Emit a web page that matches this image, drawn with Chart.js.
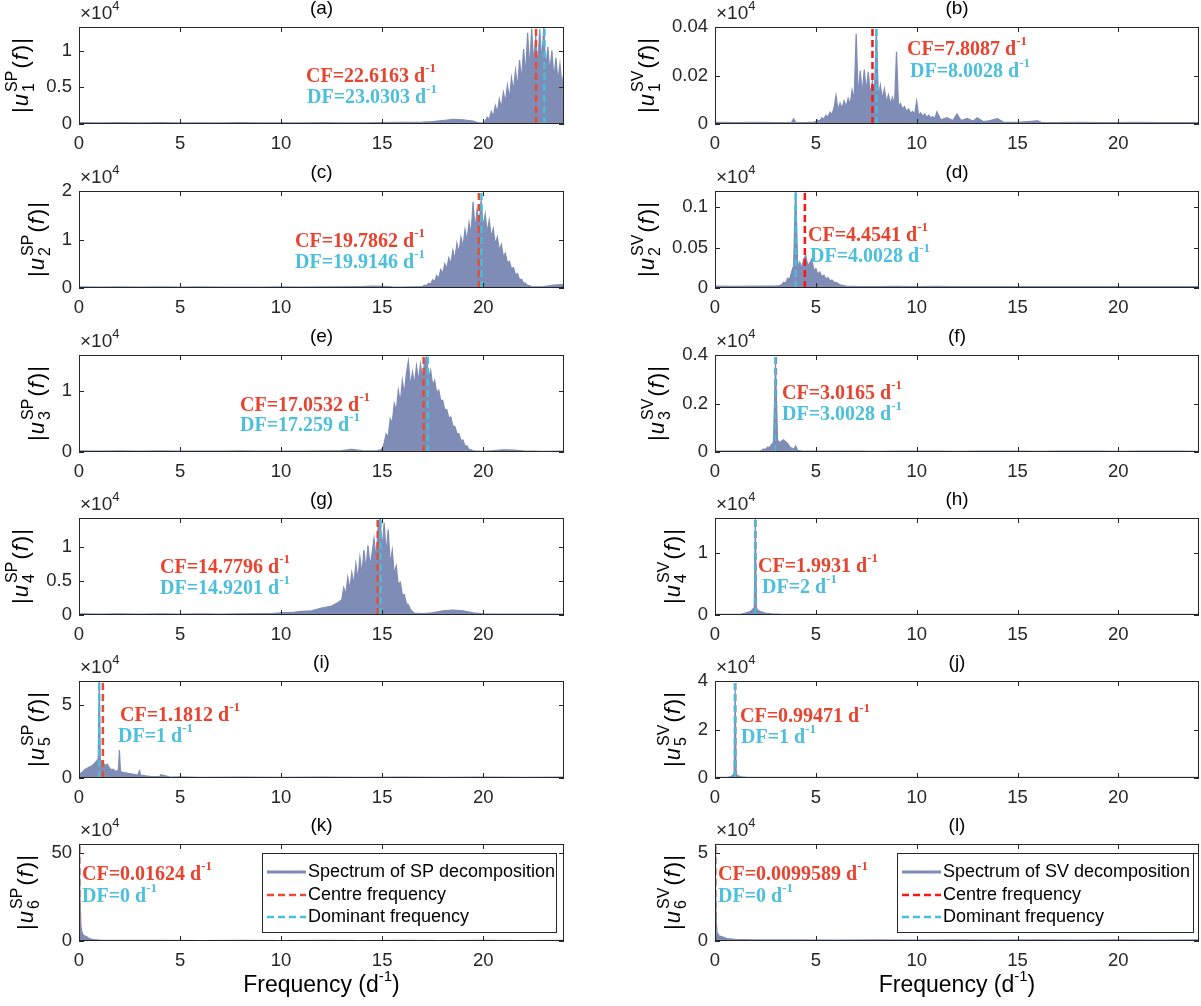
<!DOCTYPE html>
<html><head><meta charset="utf-8">
<script src="https://cdn.jsdelivr.net/npm/chart.js@4.4.1/dist/chart.umd.min.js"></script>
<style>
html,body{margin:0;padding:0;background:#fff;}
#wrap{position:relative;width:1201px;height:1006px;overflow:hidden;background:#fff;}
#wrap canvas{position:absolute;left:0;top:0;}
</style></head><body><div id="wrap"></div>
<script>
// ---------------- DATA (amplitudes in units of 10^4, frequency in d^-1) ----------------
const freqA = [0,1,2,3,4,5,6,7,8,9,10,11,12,13,14,15,16,17,17.5,18,18.5,19,19.5,19.8,
  20.0,20.1,20.2,20.3,20.4,20.5,20.6,20.7,20.8,20.9,21.0,21.1,21.2,21.3,21.4,21.5,21.6,21.7,21.8,21.9,
  22.0,22.1,22.2,22.3,22.4,22.5,22.6,22.7,22.8,22.9,23.0,23.1,23.2,23.3,23.4,23.5,23.6,23.7,23.8,23.9,24.0];
const ampA = [0.018,0.015,0.019,0.016,0.018,0.015,0.017,0.015,0.018,0.016,0.017,0.015,0.018,0.016,0.017,0.019,0.021,0.025,0.033,0.048,0.062,0.058,0.038,0.014,
  0.012,0.04,0.09,0.06,0.17,0.1,0.25,0.16,0.34,0.22,0.43,0.3,0.53,0.34,0.63,0.45,0.73,0.5,0.87,0.6,
  1.02,0.68,1.24,0.75,1.3,0.82,1.2,0.78,1.29,0.85,1.33,0.74,1.05,0.7,1.0,0.62,0.9,0.58,0.82,0.52,0.72];

const freqB = [0,1,2,3,3.8,3.9,4.0,4.5,4.9,
  5.0,5.1,5.2,5.3,5.4,5.5,5.6,5.7,5.8,5.9,6.0,6.1,6.2,6.3,6.4,6.5,6.6,6.7,6.8,6.9,
  7.0,7.1,7.2,7.3,7.4,7.5,7.6,7.7,7.8,7.9,8.0,8.1,8.2,8.3,8.4,8.5,8.6,8.7,8.8,8.9,
  9.0,9.1,9.2,9.3,9.4,9.5,9.6,9.7,9.8,9.9,10.0,10.1,10.2,10.3,10.4,10.5,10.6,10.7,10.8,10.9,11.0,
  11.2,11.5,11.8,12.0,12.2,12.5,12.8,13.0,13.3,13.6,14.0,14.3,15,16,16.2,17,18,19,20,21,22,23,24];
const ampB = [0.0007,0.0006,0.0007,0.0006,0.0007,0.0022,0.0007,0.0006,0.0008,
  0.001,0.0016,0.0013,0.0026,0.002,0.0036,0.0028,0.0049,0.004,0.0066,0.0118,0.0058,0.0086,0.0065,0.0096,0.0072,0.0106,0.0082,0.014,0.0098,
  0.0372,0.0115,0.022,0.0125,0.0225,0.0135,0.0215,0.012,0.0175,0.0112,0.0392,0.011,0.016,0.0105,0.0145,0.0092,0.012,0.0085,0.011,0.0075,
  0.0298,0.007,0.0085,0.0062,0.0072,0.0052,0.0062,0.0045,0.0052,0.004,0.0095,0.0036,0.0046,0.0032,0.0041,0.0028,0.0036,0.0025,0.0031,0.0022,0.005,
  0.0017,0.0026,0.0014,0.0042,0.0014,0.0023,0.0012,0.0026,0.001,0.0013,0.0022,0.0008,0.0007,0.0013,0.0006,0.0006,0.0007,0.0006,0.0006,0.0007,0.0006,0.0006,0.0006];

const freqC = [0,1,2,3,4,5,6,7,8,9,10,11,12,13,14,14.5,15,15.5,16,16.5,
  17.0,17.1,17.2,17.3,17.4,17.5,17.6,17.7,17.8,17.9,18.0,18.1,18.2,18.3,18.4,18.5,18.6,18.7,18.8,18.9,
  19.0,19.1,19.2,19.3,19.4,19.5,19.6,19.7,19.8,19.9,20.0,20.1,20.2,20.3,20.4,20.5,20.6,20.7,20.8,20.9,
  21.0,21.1,21.2,21.3,21.4,21.5,21.6,21.7,21.8,21.9,22.0,22.1,22.2,22.3,22.4,22.5,23,23.5,24];
const ampC = [0.022,0.02,0.022,0.019,0.022,0.02,0.022,0.019,0.021,0.02,0.022,0.02,0.022,0.024,0.03,0.037,0.032,0.022,0.017,0.022,
  0.03,0.06,0.05,0.1,0.08,0.17,0.13,0.26,0.2,0.38,0.3,0.5,0.4,0.62,0.5,0.78,0.6,0.92,0.72,1.05,
  0.85,1.2,0.98,1.35,1.1,1.78,1.2,1.62,1.3,1.82,1.25,1.52,1.15,1.4,1.05,1.22,0.9,1.05,0.78,0.9,
  0.65,0.72,0.52,0.55,0.4,0.42,0.27,0.3,0.17,0.18,0.1,0.1,0.05,0.05,0.025,0.022,0.03,0.06,0.07];

const freqD = [0,1,2,3,3.2,3.3,3.4,3.5,3.6,3.7,3.8,3.9,4.0,4.1,4.2,4.3,4.4,4.5,4.6,4.7,4.8,4.9,
  5.0,5.1,5.2,5.3,5.4,5.5,5.6,5.7,5.8,5.9,6.0,6.2,6.5,7,8,9,10,11,12,13,14,15,16,17,18,19,20,21,22,23,24];
const ampD = [0.0022,0.002,0.0022,0.0024,0.003,0.004,0.007,0.006,0.012,0.011,0.02,0.028,0.13,0.026,0.032,0.025,0.036,0.04,0.028,0.031,0.036,0.022,
  0.024,0.017,0.02,0.014,0.016,0.011,0.013,0.009,0.01,0.007,0.007,0.004,0.0025,0.002,0.0018,0.002,0.0017,0.0019,0.0017,0.0018,0.0017,0.0018,0.0017,0.0018,0.0017,0.0018,0.0017,0.0018,0.0017,0.0018,0.0017];

const freqE = [0,1,2,3,4,5,6,7,8,9,10,11,12,13,13.5,14,14.5,14.8,
  15.0,15.1,15.2,15.3,15.4,15.5,15.6,15.7,15.8,15.9,16.0,16.1,16.2,16.3,16.4,16.5,16.6,16.7,16.8,16.9,
  17.0,17.1,17.2,17.3,17.4,17.5,17.6,17.7,17.8,17.9,18.0,18.1,18.2,18.3,18.4,18.5,18.6,18.7,18.8,18.9,
  19.0,19.1,19.2,19.3,19.4,19.5,20,20.5,21,21.5,22,23,24];
const ampE = [0.017,0.015,0.017,0.014,0.017,0.015,0.016,0.014,0.017,0.015,0.016,0.015,0.018,0.022,0.042,0.022,0.017,0.022,
  0.05,0.15,0.3,0.25,0.55,0.48,0.8,0.68,1.02,0.82,1.18,0.95,1.3,1.5,1.08,1.32,1.12,1.42,1.18,1.45,
  1.2,1.5,1.58,1.22,1.35,1.1,1.18,0.98,1.02,0.85,0.85,0.7,0.7,0.56,0.58,0.43,0.42,0.31,0.3,0.19,
  0.2,0.1,0.1,0.04,0.04,0.017,0.012,0.022,0.037,0.032,0.017,0.012,0.014];

const freqF = [0,1,2,2.2,2.3,2.4,2.5,2.6,2.7,2.8,2.9,3.0,3.1,3.2,3.3,3.4,3.5,3.6,3.7,3.8,3.9,4.0,4.1,4.3,
  5,6,7,8,9,10,11,12,13,14,15,16,17,18,19,20,21,22,23,24];
const ampF = [0.0035,0.0032,0.0035,0.004,0.006,0.012,0.011,0.02,0.018,0.03,0.04,0.365,0.05,0.038,0.045,0.05,0.042,0.035,0.022,0.016,0.011,0.025,0.007,0.0045,
  0.0035,0.0032,0.0035,0.0031,0.0035,0.0032,0.0035,0.0031,0.0035,0.0032,0.0035,0.0031,0.0035,0.0032,0.0035,0.0031,0.0035,0.0032,0.0035,0.0031];

const freqG = [0,1,2,3,4,5,6,7,8,9,9.5,10,10.5,11,11.5,12,12.5,12.8,
  13.0,13.1,13.2,13.3,13.4,13.5,13.6,13.7,13.8,13.9,14.0,14.1,14.2,14.3,14.4,14.5,14.6,14.7,14.8,14.9,
  15.0,15.1,15.2,15.3,15.4,15.5,15.6,15.7,15.8,15.9,16.0,16.1,16.2,16.3,16.4,16.5,16.6,
  17,17.5,18,18.5,19,19.5,20,21,22,23,24];
const ampG = [0.017,0.015,0.017,0.014,0.017,0.015,0.016,0.015,0.017,0.02,0.022,0.032,0.037,0.052,0.062,0.1,0.13,0.18,
  0.22,0.4,0.3,0.55,0.38,0.62,0.45,0.75,0.52,0.85,0.6,0.95,0.66,1.02,0.72,0.9,1.12,0.82,1.28,1.42,
  0.95,1.35,0.9,1.25,0.75,0.95,0.6,0.72,0.45,0.48,0.3,0.3,0.17,0.15,0.08,0.05,0.027,
  0.022,0.032,0.062,0.072,0.062,0.032,0.017,0.014,0.015,0.014,0.014];

const freqH = [0,0.5,1.0,1.3,1.5,1.7,1.8,1.9,1.95,2.0,2.05,2.1,2.3,2.5,2.8,3.2,4,6,8,10,12,14,16,18,20,22,24];
const ampH = [0.012,0.01,0.012,0.016,0.03,0.05,0.07,0.1,0.12,1.6,0.12,0.08,0.05,0.03,0.02,0.013,0.01,0.009,0.01,0.009,0.01,0.009,0.01,0.009,0.01,0.009,0.01];

const freqI = [0,0.1,0.2,0.3,0.4,0.5,0.6,0.7,0.8,0.9,0.95,1.0,1.05,1.1,1.2,1.3,1.4,1.5,1.6,1.7,1.8,1.9,1.95,2.0,2.05,2.1,
  2.3,2.5,2.7,2.9,3.0,3.05,3.3,3.6,4.0,4.05,4.5,5,6,8,10,12,14,16,18,20,22,24];
const ampI = [0.1,0.35,0.45,0.6,0.65,0.75,0.8,0.9,1.05,1.2,1.3,6.65,1.3,1.15,1.0,0.85,0.95,0.7,0.55,0.6,0.45,0.5,0.55,1.9,0.5,0.4,
  0.35,0.3,0.25,0.2,0.5,0.2,0.15,0.1,0.12,0.22,0.06,0.07,0.05,0.055,0.05,0.055,0.05,0.055,0.05,0.055,0.05,0.055];

const freqJ = [0,0.3,0.6,0.8,0.9,0.95,1.0,1.05,1.1,1.3,1.6,2,4,6,8,10,12,14,16,18,20,22,24];
const ampJ = [0.025,0.025,0.03,0.06,0.12,0.2,3.72,0.2,0.1,0.05,0.03,0.025,0.025,0.022,0.025,0.022,0.025,0.022,0.025,0.022,0.025,0.022,0.025];

const freqK = [0,0.03,0.06,0.1,0.15,0.2,0.3,0.4,0.5,0.7,1.0,1.5,2,4,6,8,10,12,14,16,18,20,22,24];
const ampK = [55,40,20,8,5,3.5,2.8,2.2,1.4,0.8,0.5,0.35,0.3,0.3,0.28,0.3,0.28,0.3,0.28,0.3,0.28,0.3,0.28,0.3];

const freqL = [0,0.03,0.06,0.1,0.2,0.4,0.6,1.0,2,4,6,8,10,12,14,16,18,20,22,24];
const ampL = [5.45,3,1.2,0.5,0.3,0.22,0.14,0.09,0.06,0.06,0.055,0.06,0.055,0.06,0.055,0.06,0.055,0.06,0.055,0.06];

const panelLetters = ['a','b','c','d','e','f','g','h','i','j','k','l'];
const methods = ['SP','SV'];
const yMaxes = [1.32,0.04,2,0.12,1.6,0.4,1.42,1.56,6.6,4,55,5.5];
const yTickValues = [[0,0.5,1],[0,0.02,0.04],[0,1,2],[0,0.05,0.1],[0,1],[0,0.2,0.4],[0,0.5,1],[0,1],[0,5],[0,2,4],[0,50],[0,5]];
const xTickValues = [0,5,10,15,20];
const centreFreqs = [22.6163,7.8087,19.7862,4.4541,17.0532,3.0165,14.7796,1.9931,1.1812,0.99471,0.01624,0.0099589];
const dominantFreqs = [23.0303,8.0028,19.9146,4.0028,17.259,3.0028,14.9201,2,1,1,0,0];
const centreLabels = ['22.6163','7.8087','19.7862','4.4541','17.0532','3.0165','14.7796','1.9931','1.1812','0.99471','0.01624','0.0099589'];
const dominantLabels = ['23.0303','8.0028','19.9146','4.0028','17.259','3.0028','14.9201','2','1','1','0','0'];
const spectraF = [freqA,freqB,freqC,freqD,freqE,freqF,freqG,freqH,freqI,freqJ,freqK,freqL];
const spectraA = [ampA,ampB,ampC,ampD,ampE,ampF,ampG,ampH,ampI,ampJ,ampK,ampL];
const legendTexts = ['Spectrum of SP decomposition','Spectrum of SV decomposition'];

// ---------------- LAYOUT ----------------
const W = 1201, H = 1006;
const colLeft = [79, 715], colRight = [564, 1199];
const rowTop = [27, 191, 355, 518, 681, 844];
const plotH = 97;
const yAxisW = 50, xAxisH = 30;
const TICK_FONT = 18.5, TICK_PAD = 7;
// annotation anchors: [cfX, cfY, dfX, dfY] (page px, text left / vertical middle)
const annotPos = [
  [306,77,307,98],[907,50,910,72],
  [295,242,295,263],[808,236,810,257],
  [240,406,240,426],[782,394,782,415],
  [160,568,160,589],[758,567,762,588],
  [120,716,118,737],[740,717,741,738],
  [82,875,82,897],[718,875,718,897]
];
const legendBoxes = [null,null,null,null,null,null,null,null,null,null,[262,853,556,932],[897,853,1193,932]];

const SPEC_COLOR = '#7f8cb5';
const CF_COLOR_L = '#ea4a35', CF_COLOR_R = '#ff1414';
const DF_COLOR = '#47bedb';
const TXT_RED = '#e8432e', TXT_CYAN = '#4bbfdb';
const AX_COLOR = '#262626';
const SANS = '"Liberation Sans", Arial, Helvetica, sans-serif';
const SERIF = '"Liberation Serif", "Times New Roman", serif';

function drawRich(ctx, x, y, parts) {
  let cx = x;
  for (const p of parts) {
    if (p.stack) {
      let w = 0;
      for (const s of p.stack) {
        ctx.font = s.font; ctx.fillText(s.text, cx, y + (s.dy || 0));
        w = Math.max(w, ctx.measureText(s.text).width);
      }
      cx += w + (p.gap || 0);
    } else {
      ctx.font = p.font; ctx.fillText(p.text, cx, y + (p.dy || 0));
      cx += ctx.measureText(p.text).width + (p.gap || 0);
    }
  }
  return cx - x;
}
function measureRich(ctx, parts) {
  let w = 0;
  for (const p of parts) {
    if (p.stack) { let m = 0; for (const s of p.stack) { ctx.font = s.font; m = Math.max(m, ctx.measureText(s.text).width); } w += m + (p.gap || 0); }
    else { ctx.font = p.font; w += ctx.measureText(p.text).width + (p.gap || 0); }
  }
  return w;
}

function makeDecor(p) {
  const col = p % 2, row = Math.floor(p / 2);
  return {
    id: 'decor' + p,
    afterDatasetsDraw(chart) {
      const ctx = chart.ctx, a = chart.chartArea;
      const xs = chart.scales.x, ys = chart.scales.y;
      ctx.save();
      ctx.strokeStyle = AX_COLOR; ctx.lineWidth = 1;
      ctx.strokeRect(a.left + 0.5, a.top + 0.5, a.right - a.left - 1, a.bottom - a.top - 1);
      ctx.beginPath();
      for (const v of xTickValues) {
        const px = Math.round(xs.getPixelForValue(v)) + 0.5;
        ctx.moveTo(px, a.bottom); ctx.lineTo(px, a.bottom - 5);
        ctx.moveTo(px, a.top); ctx.lineTo(px, a.top + 5);
      }
      for (const v of yTickValues[p]) {
        const py = Math.round(ys.getPixelForValue(v)) + 0.5;
        ctx.moveTo(a.left, py); ctx.lineTo(a.left + 5, py);
        ctx.moveTo(a.right, py); ctx.lineTo(a.right - 5, py);
      }
      ctx.stroke();
      ctx.restore();
    },
    afterDraw(chart) {
      const ctx = chart.ctx, a = chart.chartArea;
      ctx.save();
      ctx.textBaseline = 'middle';
      // title
      ctx.fillStyle = '#000';
      ctx.font = '19px ' + SANS; ctx.textAlign = 'center';
      ctx.fillText('(' + panelLetters[p] + ')', (a.left + a.right) / 2, a.top - 18);
      // x10^4
      ctx.textAlign = 'left'; ctx.fillStyle = AX_COLOR;
      drawRich(ctx, a.left + 1, a.top - 13, [
        {text: '\u00d710', font: '19px ' + SANS},
        {text: '4', font: '13px ' + SANS, dy: -8}
      ]);
      // y label (rotated), placed left of the widest tick label
      ctx.font = TICK_FONT + 'px ' + SANS;
      let tickW = 0;
      for (const v of yTickValues[p]) tickW = Math.max(tickW, ctx.measureText(String(v)).width);
      const baseX = a.left - TICK_PAD - tickW - 18;
      ctx.fillStyle = '#000';
      const F = 22, S = 16;
      const yl = [
        {text: '|', font: F + 'px ' + SANS, gap: 1},
        {text: 'u', font: 'italic ' + F + 'px ' + SANS, gap: 2},
        {stack: [
          {text: methods[col], font: S + 'px ' + SANS, dy: -11},
          {text: String(row + 1), font: S + 'px ' + SANS, dy: 6}
        ], gap: 2},
        {text: '(', font: F + 'px ' + SANS, gap: 1},
        {text: 'f', font: 'italic ' + F + 'px ' + SANS, gap: 2},
        {text: ')', font: F + 'px ' + SANS, gap: 1},
        {text: '|', font: F + 'px ' + SANS}
      ];
      const ylw = measureRich(ctx, yl);
      ctx.save();
      ctx.textBaseline = 'alphabetic';
      ctx.translate(baseX, (a.top + a.bottom) / 2);
      ctx.rotate(-Math.PI / 2);
      drawRich(ctx, -ylw / 2, 0, yl);
      ctx.restore();
      // annotations
      const ap = annotPos[p];
      ctx.fillStyle = TXT_RED;
      drawRich(ctx, ap[0], ap[1], [
        {text: 'CF=' + centreLabels[p] + ' d', font: 'bold 20px ' + SERIF},
        {text: '-1', font: 'bold 13px ' + SERIF, dy: -8}
      ]);
      ctx.fillStyle = TXT_CYAN;
      drawRich(ctx, ap[2], ap[3], [
        {text: 'DF=' + dominantLabels[p] + ' d', font: 'bold 20px ' + SERIF},
        {text: '-1', font: 'bold 13px ' + SERIF, dy: -8}
      ]);
      // legend
      const lb = legendBoxes[p];
      if (lb) {
        ctx.fillStyle = '#fff'; ctx.fillRect(lb[0], lb[1], lb[2] - lb[0], lb[3] - lb[1]);
        ctx.strokeStyle = AX_COLOR; ctx.lineWidth = 1;
        ctx.strokeRect(lb[0] + 0.5, lb[1] + 0.5, lb[2] - lb[0], lb[3] - lb[1]);
        const rowsY = [lb[1] + 19, lb[1] + 42, lb[1] + 64];
        const items = [
          {text: legendTexts[col], color: SPEC_COLOR, dash: [], w: 3},
          {text: 'Centre frequency', color: col === 0 ? CF_COLOR_L : CF_COLOR_R, dash: [7, 4], w: 2.5},
          {text: 'Dominant frequency', color: DF_COLOR, dash: [7, 4], w: 2.5}
        ];
        items.forEach((it, k) => {
          ctx.beginPath(); ctx.setLineDash(it.dash); ctx.strokeStyle = it.color; ctx.lineWidth = it.w;
          ctx.moveTo(lb[0] + 5, rowsY[k]); ctx.lineTo(lb[0] + 44, rowsY[k]); ctx.stroke();
          ctx.setLineDash([]);
          ctx.fillStyle = '#000'; ctx.font = '18px ' + SANS; ctx.textAlign = 'left';
          ctx.fillText(it.text, lb[0] + 46, rowsY[k]);
        });
      }
      // x label (bottom row)
      if (row === 5) {
        ctx.fillStyle = '#000';
        const xl = [
          {text: 'Frequency (d', font: '23px ' + SANS},
          {text: '-1', font: '15px ' + SANS, dy: -9},
          {text: ')', font: '23px ' + SANS}
        ];
        const w = measureRich(ctx, xl);
        drawRich(ctx, (a.left + a.right) / 2 - w / 2, 986, xl);
      }
      ctx.restore();
    }
  };
}

const wrap = document.getElementById('wrap');
for (let p = 0; p < 12; p++) {
  const col = p % 2, row = Math.floor(p / 2);
  const cv = document.createElement('canvas');
  cv.width = W; cv.height = H; cv.style.width = W + 'px'; cv.style.height = H + 'px';
  wrap.appendChild(cv);
  const spec = spectraF[p].map((f, i) => ({x: f, y: spectraA[p][i]}));
  const cfColor = col === 0 ? CF_COLOR_L : CF_COLOR_R;
  new Chart(cv, {
    type: 'line',
    data: {
      datasets: [
        {data: spec, borderColor: SPEC_COLOR, backgroundColor: SPEC_COLOR, borderWidth: 1.2, fill: 'origin', pointRadius: 0, tension: 0, order: 3},
        {data: [{x: centreFreqs[p], y: 0}, {x: centreFreqs[p], y: yMaxes[p]}], borderColor: cfColor, borderWidth: 2.5, borderDash: [7, 4], pointRadius: 0, fill: false, order: 2},
        {data: [{x: dominantFreqs[p], y: 0}, {x: dominantFreqs[p], y: yMaxes[p]}], borderColor: DF_COLOR, borderWidth: 2.5, borderDash: [7, 4], pointRadius: 0, fill: false, order: 1}
      ]
    },
    options: {
      responsive: false, animation: false, devicePixelRatio: 1,
      layout: {padding: {left: colLeft[col] - yAxisW, right: W - colRight[col], top: rowTop[row], bottom: H - (rowTop[row] + plotH) - xAxisH}},
      plugins: {legend: {display: false}, tooltip: {enabled: false}, title: {display: false}},
      scales: {
        x: {
          type: 'linear', min: 0, max: 24,
          grid: {display: false, drawTicks: false}, border: {display: false},
          afterFit(s) { s.height = xAxisH; },
          afterBuildTicks(s) { s.ticks = xTickValues.map(v => ({value: v})); },
          ticks: {font: {family: SANS, size: TICK_FONT}, color: AX_COLOR, padding: 9, maxRotation: 0, autoSkip: false, callback: v => String(v)}
        },
        y: {
          type: 'linear', min: 0, max: yMaxes[p],
          grid: {display: false, drawTicks: false}, border: {display: false},
          afterFit(s) { s.width = yAxisW; },
          afterBuildTicks(s) { s.ticks = yTickValues[p].map(v => ({value: v})); },
          ticks: {font: {family: SANS, size: TICK_FONT}, color: AX_COLOR, padding: TICK_PAD, autoSkip: false, callback: v => String(v)}
        }
      }
    },
    plugins: [makeDecor(p)]
  });
}
</script>
</body></html>
